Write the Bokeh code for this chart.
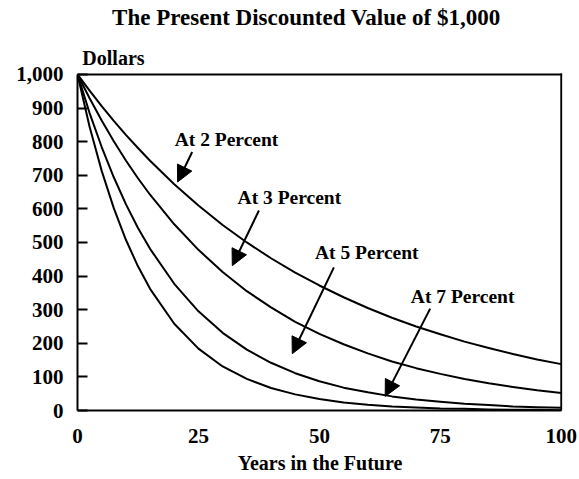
from bokeh.plotting import figure
from bokeh.models import (Arrow, NormalHead, Label, FixedTicker,
                          NumeralTickFormatter, ColumnDataSource)
from bokeh.embed import file_html
from bokeh.resources import INLINE

# ---- data ----
years = [0, 2.5, 5, 7.5, 10, 12.5, 15, 20, 25, 30, 35, 40, 45, 50,
         55, 60, 65, 70, 75, 80, 85, 90, 95, 100]
pv_2 = [1000, 952, 906, 862, 820, 781, 743, 673, 610, 552, 500, 453, 410, 372,
        337, 305, 276, 250, 227, 205, 186, 168, 152, 138]
pv_3 = [1000, 929, 863, 801, 744, 691, 642, 554, 478, 412, 355, 307, 264, 228,
        197, 170, 146, 126, 109, 94, 81, 70, 60, 52]
pv_5 = [1000, 885, 784, 694, 614, 543, 481, 377, 295, 231, 181, 142, 111, 87,
        68, 54, 42, 33, 26, 20, 16, 12, 10, 8]
pv_7 = [1000, 844, 713, 602, 508, 429, 362, 258, 184, 131, 94, 67, 48, 34,
        24, 17, 12, 9, 6, 5, 3, 2, 2, 1]
series_labels = ["At 2 Percent", "At 3 Percent", "At 5 Percent", "At 7 Percent"]
x_ticks = [0, 25, 50, 75, 100]
y_ticks = [0, 100, 200, 300, 400, 500, 600, 700, 800, 900, 1000]

title_text = "The Present Discounted Value of $1,000"
y_title = "Dollars"
x_title = "Years in the Future"

# ---- annotation placement (data coordinates) ----
label_pos = [(30.8, 806), (43.8, 633), (59.8, 471), (79.6, 339)]
arrow_pos = [((23.7, 769), (20.7, 680)),
             ((37.5, 595), (32.0, 431)),
             ((53.0, 426), (44.4, 169)),
             ((72.9, 303), (63.6, 42))]
title_pos = (47.3, 1170)
ytitle_pos = (1.0, 1048)

FONT = "Liberation Serif"
x0, x1 = x_ticks[0], x_ticks[-1]
y0, y1 = y_ticks[0], y_ticks[-1]

# the plotting area extends above the box so that the titles can sit there
p = figure(width=579, height=479, x_range=(x0, 100.25), y_range=(y0, 1214),
           output_backend="svg", toolbar_location=None, title=None,
           min_border_left=77, min_border_right=17,
           min_border_top=2, min_border_bottom=69)

src = ColumnDataSource(dict(x=years, a=pv_2, b=pv_3, c=pv_5, d=pv_7))
for col in ["a", "b", "c", "d"]:
    p.line("x", col, source=src, line_color="black", line_width=2,
           line_join="round")

# top and right edges of the box
p.segment(x0=[x0, x1], y0=[y1, y0], x1=[x1, x1], y1=[y1, y1],
          line_color="black", line_width=2, line_cap="square")

p.xgrid.visible = False
p.ygrid.visible = False
p.outline_line_color = None
p.background_fill_color = "white"
p.border_fill_color = "white"

xa = p.xaxis[0]
xa.ticker = FixedTicker(ticks=x_ticks)
xa.bounds = (x0, x1)
xa.major_tick_in = 0
xa.major_tick_out = 0
xa.minor_tick_line_color = None
xa.axis_line_width = 2
xa.axis_line_color = "black"
xa.major_label_text_font = FONT
xa.major_label_text_font_style = "bold"
xa.major_label_text_font_size = "21px"
xa.major_label_text_color = "black"
xa.major_label_standoff = 18
xa.axis_label = x_title
xa.axis_label_text_font = FONT
xa.axis_label_text_font_style = "bold"
xa.axis_label_text_font_size = "20px"
xa.axis_label_text_color = "black"
xa.axis_label_standoff = 6

ya = p.yaxis[0]
ya.ticker = FixedTicker(ticks=y_ticks)
ya.bounds = (y0, y1)
ya.formatter = NumeralTickFormatter(format="0,0")
ya.major_tick_in = 10
ya.major_tick_out = 0
ya.major_tick_line_width = 2
ya.major_tick_line_color = "black"
ya.minor_tick_line_color = None
ya.axis_line_width = 2
ya.axis_line_color = "black"
ya.major_label_text_font = FONT
ya.major_label_text_font_style = "bold"
ya.major_label_text_font_size = "21px"
ya.major_label_text_color = "black"
ya.major_label_standoff = 14

for text, (lx, ly) in zip(series_labels, label_pos):
    p.add_layout(Label(x=lx, y=ly, text=text, text_align="center",
                       text_baseline="middle", text_font=FONT,
                       text_font_style="bold", text_font_size="19.5px",
                       text_color="black"))

for (s, e) in arrow_pos:
    p.add_layout(Arrow(end=NormalHead(size=16, fill_color="black",
                                      line_color="black", line_width=1),
                       x_start=s[0], y_start=s[1], x_end=e[0], y_end=e[1],
                       line_color="black", line_width=2))

p.add_layout(Label(x=title_pos[0], y=title_pos[1], text=title_text,
                   text_align="center", text_baseline="middle",
                   text_font=FONT, text_font_style="bold",
                   text_font_size="23px", text_color="black"))
p.add_layout(Label(x=ytitle_pos[0], y=ytitle_pos[1], text=y_title,
                   text_align="left", text_baseline="middle",
                   text_font=FONT, text_font_style="bold",
                   text_font_size="20px", text_color="black"))

open("out.html", "w").write(file_html(p, INLINE))
